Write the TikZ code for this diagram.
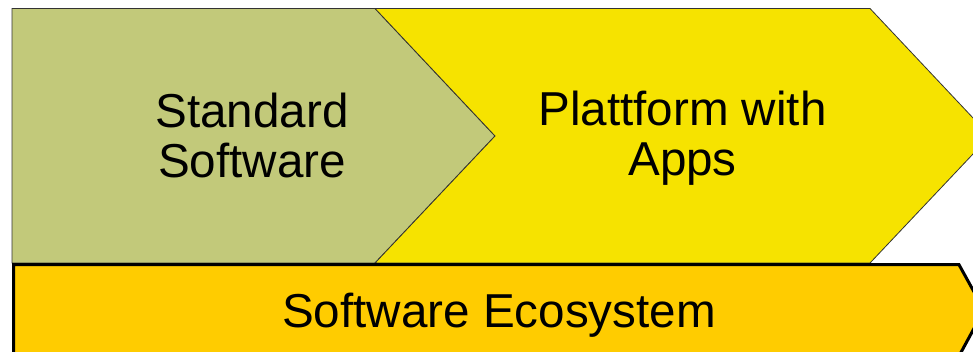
\documentclass[tikz,border=0pt]{standalone}
\usepackage{fontspec}
\setmainfont{Liberation Sans}
\definecolor{stdgreen}{RGB}{194,201,122}
\definecolor{appyellow}{RGB}{246,227,0}
\definecolor{ecoorange}{RGB}{255,204,0}

\begin{document}
\begin{tikzpicture}[x=1pt,y=1pt]
  \tikzstyle{outline}=[draw=black!80, line width=0.8pt, line join=miter]
  \tikzstyle{boxtext}=[align=center, font=\fontsize{47.6}{50}\selectfont]
  \useasboundingbox (0,0) rectangle (973,351);
  \clip (0,0) rectangle (973,351);
  % standard software
  \filldraw[outline, fill=stdgreen] (12,342.5) -- (375,342.5) -- (495,215) -- (375,88) -- (12,88) -- cycle;
  % platform chevron
  \filldraw[outline, fill=appyellow] (375,342.5) -- (870,342.5) -- (990,215) -- (870,88) -- (375,88) -- (495,215) -- cycle;
  % ecosystem bar
  \filldraw[draw=black, line width=3pt, fill=ecoorange] (13.5,-5) -- (13.5,86.3) -- (959,86.3) -- (984,41) -- (959,-5) -- cycle;
  \node[boxtext] (std) at (252,216) {Standard\\Software};
  \node[boxtext] (app) at (682.5,213) {Plattform with\\Apps};
  \node[boxtext, anchor=base] (eco) at (499,24) {Software Ecosystem};
\end{tikzpicture}
\end{document}
